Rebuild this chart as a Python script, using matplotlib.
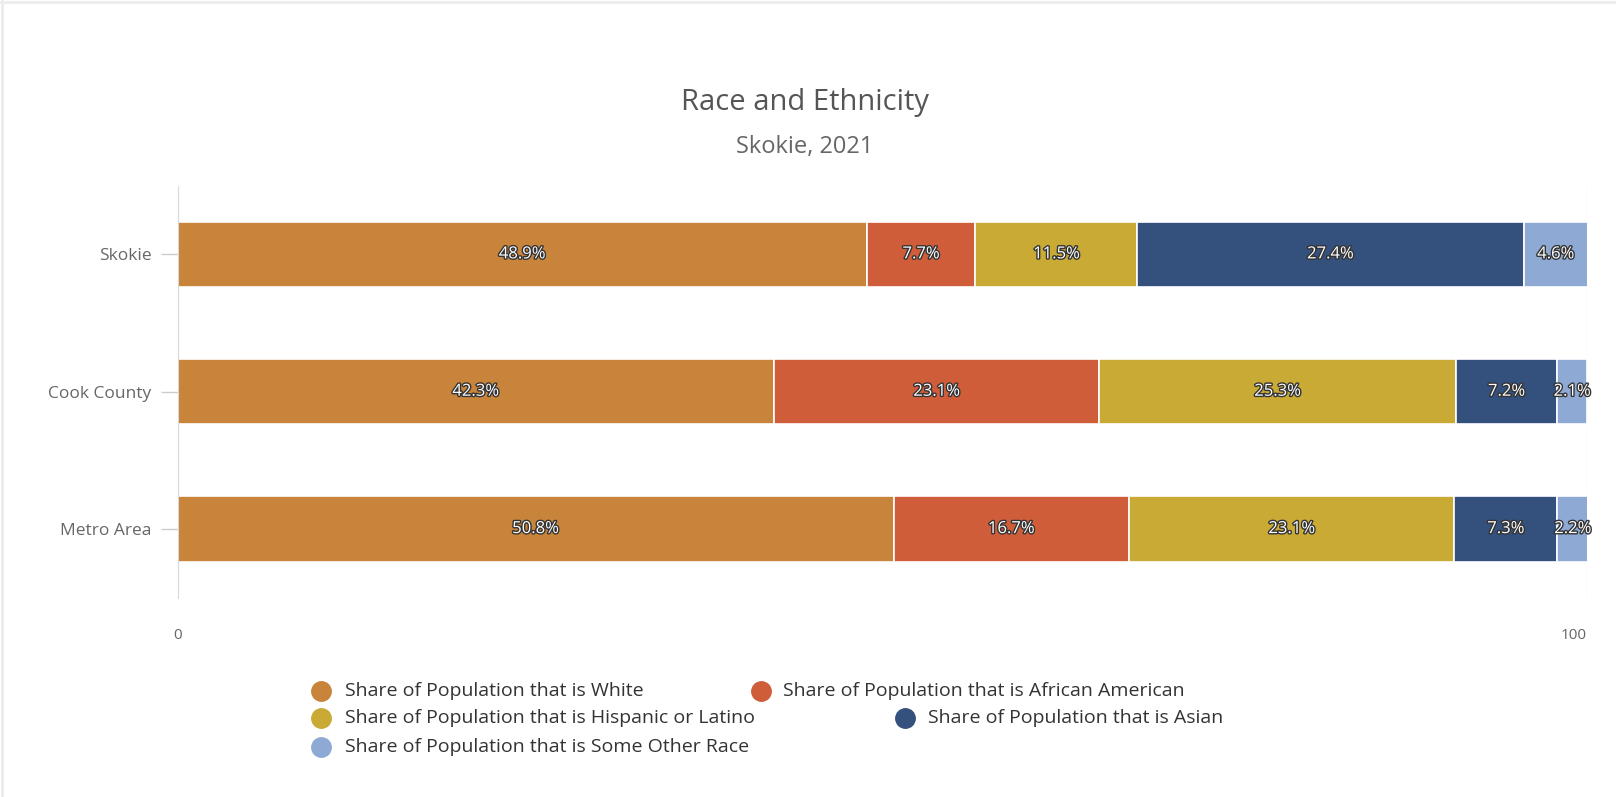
import matplotlib
matplotlib.use("Agg")
import matplotlib.pyplot as plt
import matplotlib.patheffects as pe
from matplotlib.lines import Line2D
from matplotlib import font_manager

categories = ["Skokie", "Cook County", "Metro Area"]
series_names = [
    "Share of Population that is White",
    "Share of Population that is African American",
    "Share of Population that is Hispanic or Latino",
    "Share of Population that is Asian",
    "Share of Population that is Some Other Race",
]
white = [48.9, 42.3, 50.8]
african_american = [7.7, 23.1, 16.7]
hispanic = [11.5, 25.3, 23.1]
asian = [27.4, 7.2, 7.3]
other = [4.6, 2.1, 2.2]
series_values = [white, african_american, hispanic, asian, other]
colors = ["#C8843A", "#CF5D3A", "#C9AA35", "#34507C", "#8EAAD4"]
x_ticks = [0, 100]

installed = {f.name for f in font_manager.fontManager.ttflist}
main_font = "Open Sans" if "Open Sans" in installed else "DejaVu Sans"

fig = plt.figure(figsize=(16.16, 7.97), dpi=100)
ax = fig.add_axes([0.110, 0.250, 0.872, 0.517])

y = list(range(len(categories)))
left = [0.0] * len(categories)
for name, vals, col in zip(series_names, series_values, colors):
    ax.barh(y, vals, left=left, height=0.475, color=col,
            edgecolor="white", linewidth=1.2, label=name)
    for yi, v, l in zip(y, vals, left):
        ax.text(l + v / 2, yi, f"{v}%", ha="center", va="center",
                color="white", fontsize=12, family=main_font,
                path_effects=[pe.withStroke(linewidth=2, foreground="#333333")])
    left = [a + b for a, b in zip(left, vals)]

ax.set_xlim(0, 100)
ax.set_ylim(2.5, -0.5)
ax.set_yticks(y)
ax.set_yticklabels(categories, family=main_font, fontsize=12.5, color="#666666")
ax.set_xticks(x_ticks)
xl = ax.set_xticklabels([str(t) for t in x_ticks], family=main_font, fontsize=11, color="#666666")
xl[-1].set_horizontalalignment("right")
ax.tick_params(axis="y", length=12, color="#cccccc", width=1, pad=7)
ax.tick_params(axis="x", length=0, pad=22)
for s in ["top", "right", "bottom"]:
    ax.spines[s].set_visible(False)
ax.spines["left"].set_color("#d8d8d8")
ax.axvline(100, color="#ececec", linewidth=1, zorder=0)

fig.text(0.498, 0.872, "Race and Ethnicity", ha="center", va="center",
         fontsize=21, color="#555555", family=main_font)
fig.text(0.498, 0.815, "Skokie, 2021", ha="center", va="center",
         fontsize=17, color="#666666", family=main_font)

# legend (manual layout like the original wrapping legend)
legend_pos = [
    (320.5, 690.5, 345),
    (760.6, 690.5, 783),
    (320.5, 718.3, 345),
    (905.0, 718.3, 927.5),
    (320.5, 747.0, 345),
]
W, H = 1616, 797
for (cx, cy, tx), name, col in zip(legend_pos, series_names, colors):
    fig.add_artist(Line2D([cx / W], [1 - cy / H], marker="o", markersize=14,
                          color=col, linestyle="none", transform=fig.transFigure))
    fig.text(tx / W, 1 - cy / H, name, ha="left", va="center", fontsize=14,
             color="#333333", family=main_font)

# faint outer border (top and left)
fig.add_artist(Line2D([0, 1], [0.998, 0.998], color="#ececec", linewidth=2,
                      transform=fig.transFigure))
fig.add_artist(Line2D([0.001, 0.001], [0, 1], color="#ececec", linewidth=2,
                      transform=fig.transFigure))

fig.savefig("out.png", dpi=100, facecolor="white")
